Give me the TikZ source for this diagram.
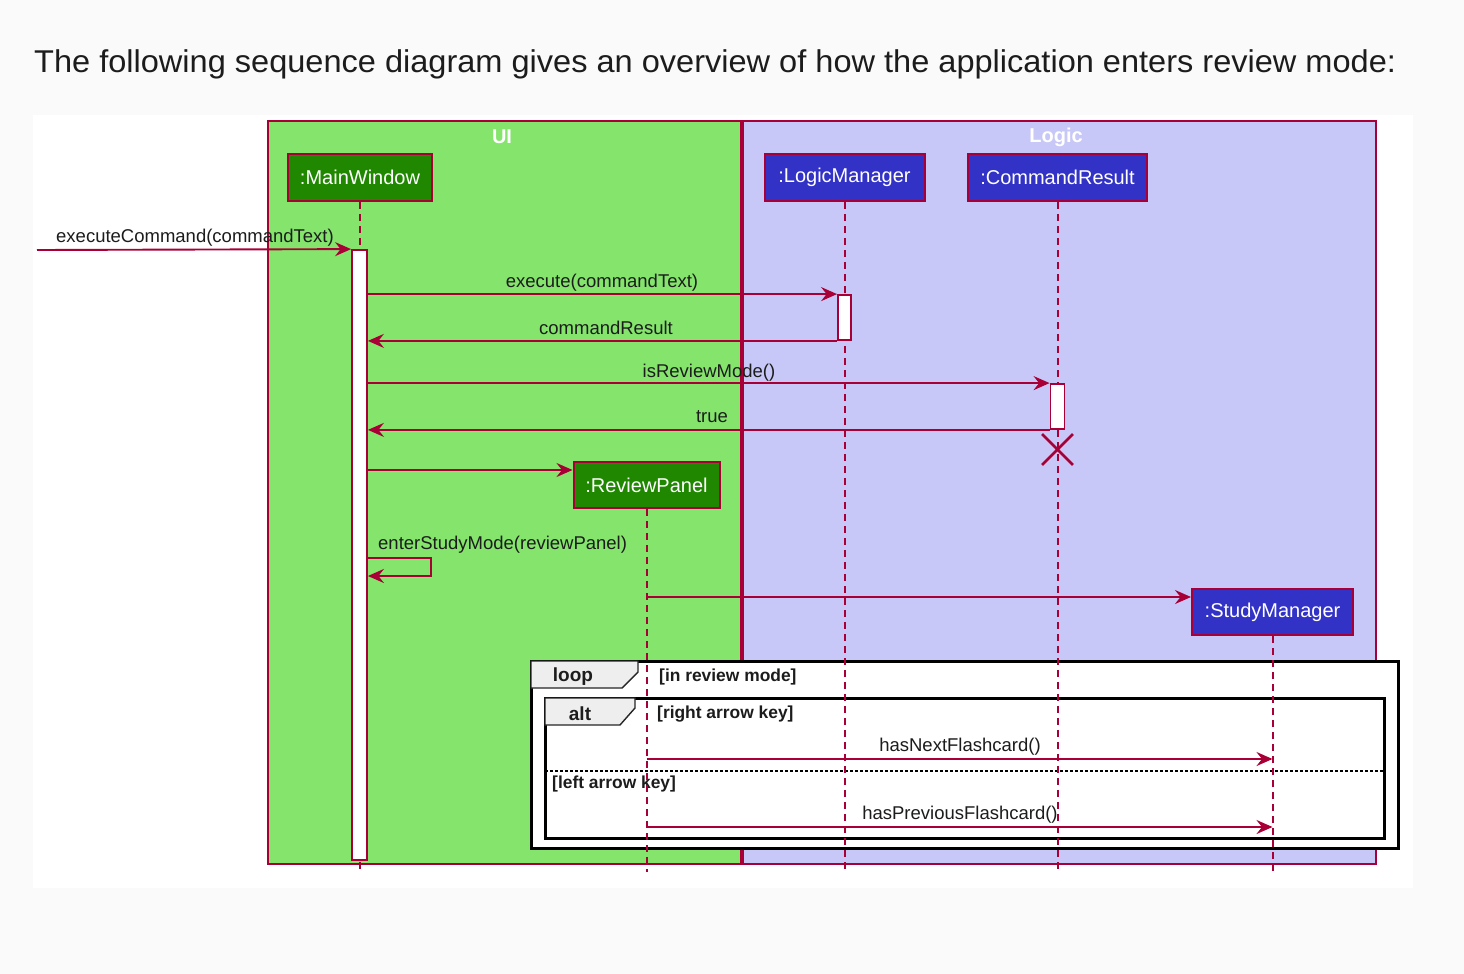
\documentclass[tikz,border=0pt]{standalone}
\usepackage{fontspec}
\setmainfont{Liberation Sans}
\usetikzlibrary{arrows.meta,shapes.misc}
\definecolor{umlred}{HTML}{A80036}
\definecolor{uigreen}{HTML}{84E46C}
\definecolor{logicblue}{HTML}{C8C8F8}
\definecolor{partgreen}{HTML}{1F8800}
\definecolor{partblue}{HTML}{3232C6}
\definecolor{tabgray}{HTML}{EEEEEE}
\definecolor{pagebg}{HTML}{FAFAFA}
\definecolor{ink}{HTML}{1C1C1C}
\begin{document}
\begin{tikzpicture}[x=1pt,y=-1pt,
  partbox/.style={draw=umlred, line width=2pt, text=white, inner sep=0pt,
    minimum height=47pt, font=\fontsize{20}{24}\selectfont},
  uipart/.style={partbox, fill=partgreen},
  logicpart/.style={partbox, fill=partblue},
  lifeline/.style={draw=umlred, line width=2pt, dash pattern=on 7pt off 5pt},
  actbar/.style={draw=umlred, fill=white, line width=1.8pt, minimum width=14pt, inner sep=0pt},
  msg/.style={draw=umlred, line width=1.9pt, -{Stealth[length=16pt, width=14pt, inset=5.5pt]}},
  msglabel/.style={text=ink, font=\fontsize{18.5}{22}\selectfont, inner sep=0pt, yshift=-2pt},
  grouptitle/.style={text=white, font=\bfseries\fontsize{20}{24}\selectfont},
  framebox/.style={draw=black, line width=3pt},
  tab/.style={draw=black!85, fill=tabgray, line width=1.4pt},
  tablabel/.style={text=ink, font=\bfseries\fontsize{19}{22}\selectfont, inner sep=0pt},
  guard/.style={text=ink, font=\bfseries\fontsize{17.4}{20}\selectfont, inner sep=0pt, anchor=west}
]
\useasboundingbox (0,0) rectangle (1464,974);
% page and diagram backgrounds
\fill[pagebg] (0,0) rectangle (1464,974);
\fill[white] (33,115) rectangle (1413,888);

% heading
\node[anchor=west, text=ink, font=\fontsize{31.5}{36}\selectfont, inner sep=0pt] (title) at (34,64)
  {\scalebox{1.033}[1]{The following sequence diagram gives an overview of how the application enters review mode:}};

% UI and Logic groups
\draw[umlred, fill=uigreen, line width=1.8pt] (268,121) rectangle (741,864);
\draw[umlred, fill=logicblue, line width=1.8pt] (743,121) rectangle (1376,864);
\node[grouptitle] (uititle) at (502,137) {UI};
\node[grouptitle] (logictitle) at (1056,137) {Logic};

% loop / alt fragments
\draw[framebox, fill=white] (531,661) rectangle (1398,848);
\draw[tab] (531,661) -- (638,661) -- (638,672) -- (622,688) -- (531,688) -- cycle;
\node[tablabel] (looplabel) at (573,677) {loop};
\node[guard] (loopguard) at (659,677) {[in review mode]};
\draw[framebox] (545,698) rectangle (1384,838);
\draw[tab] (545,698) -- (635,698) -- (635,708) -- (620,725) -- (545,725) -- cycle;
\node[tablabel] (altlabel) at (580,714) {alt};
\node[guard] (altguard) at (657,714) {[right arrow key]};
\draw[black, line width=1.4pt, dash pattern=on 2.5pt off 2.5pt] (545,771) -- (1384,771);
\node[guard] (elseguard) at (552,784) {[left arrow key]};

% participants
\node[uipart, minimum width=144pt] (mw) at (360,177.5) {:MainWindow};
\node[logicpart, minimum width=160pt] (lm) at (844.5,177.5) {:LogicManager};
\node[logicpart, minimum width=179pt] (cr) at (1057.5,177.5) {:CommandResult};
\node[uipart, minimum width=146pt, minimum height=46pt] (rp) at (646.5,485) {:ReviewPanel};
\node[logicpart, minimum width=161pt, minimum height=46pt] (sm) at (1272.5,612) {:StudyManager};

% lifelines
\coordinate (bottom) at (0,872);
\draw[lifeline] (mw.south) -- (mw.south |- bottom);
\draw[lifeline] (lm.south) -- (lm.south |- bottom);
\draw[lifeline] (cr.south) -- (cr.south |- bottom);
\draw[lifeline] (rp.south) -- (rp.south |- bottom);
\draw[lifeline] (sm.south) -- (sm.south |- bottom);

% activations
\node[actbar, minimum width=15pt, minimum height=610pt] (mwact) at (359.5,555) {};
\node[actbar, minimum width=13pt, minimum height=45pt] (lmact) at (844.5,317.5) {};
\node[actbar, minimum width=14pt, minimum height=45pt] (cract) at (1057.5,406.5) {};

% destruction of CommandResult
\node[cross out, draw=umlred, line width=2.8pt, minimum size=28pt, inner sep=0pt] (crx) at (1057.5,449.5) {};

% messages
\coordinate (caller) at (37,250);
\draw[msg] (caller) -- (mwact.north west);
\node[msglabel] (l1) at (195,236) {executeCommand(commandText)};

\draw[msg] (mwact.east |- lmact.north) -- (lmact.north west);
\node[msglabel] (l2) at (602,281) {execute(commandText)};

\draw[msg] (lmact.south west) -- (mwact.east |- lmact.south);
\node[msglabel] (l3) at (606,326) {commandResult};

\draw[msg] (mwact.east |- cract.north) -- (cract.north west);
\node[msglabel] (l4) at (709,371) {isReviewMode()};

\draw[msg] (cract.south west) -- (mwact.east |- cract.south);
\node[msglabel] (l5) at (712,415) {true};

\coordinate (rpin) at ([yshift=15pt]rp.west);
\draw[msg] (mwact.east |- rpin) -- (rpin);

\coordinate (selfout) at (0,558);
\coordinate (selfback) at (0,576);
\draw[msg] (mwact.east |- selfout) -- ++(63,0) -- ++(0,18) -- (mwact.east |- selfback);
\node[msglabel, anchor=west] (l6) at (378,543) {enterStudyMode(reviewPanel)};

\coordinate (smin) at ([yshift=15pt]sm.west);
\draw[msg] (rp.south |- smin) -- (smin);

\coordinate (nextrow) at (0,759);
\draw[msg] (rp.south |- nextrow) -- (sm.south |- nextrow);
\node[msglabel] (l7) at (960,745) {hasNextFlashcard()};

\coordinate (prevrow) at (0,827);
\draw[msg] (rp.south |- prevrow) -- (sm.south |- prevrow);
\node[msglabel] (l8) at (960,813) {hasPreviousFlashcard()};
\end{tikzpicture}
\end{document}
